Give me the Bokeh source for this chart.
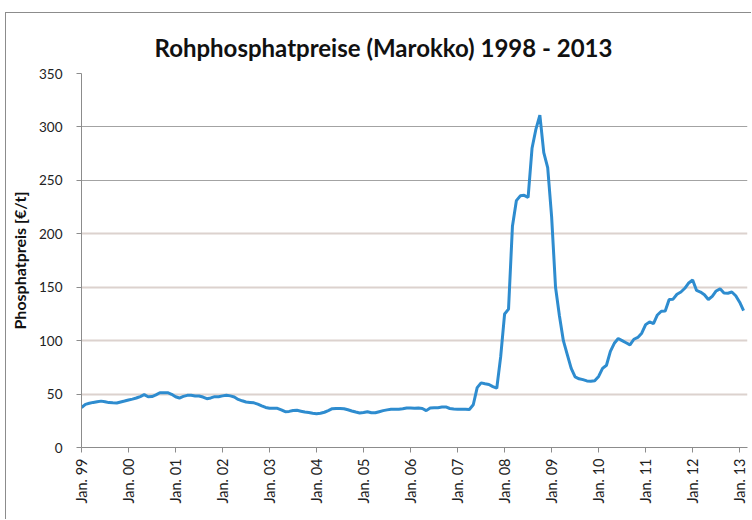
from bokeh.plotting import figure
from bokeh.models import FixedTicker, Grid, Range1d, ColumnDataSource
from bokeh.embed import file_html
from bokeh.resources import INLINE
import math

# Monthly raw phosphate prices (EUR/t), Jan 1999 .. Feb 2013
p1999 = [37.3, 40.4, 41.4, 42.2, 42.8, 43.4, 42.8, 42.0, 41.8, 41.7, 42.6, 43.5]
p2000 = [44.5, 45.3, 46.3, 47.7, 49.5, 47.5, 47.7, 49.2, 51.2, 51.3, 51.3, 49.8]
p2001 = [47.5, 46.3, 47.8, 48.8, 48.8, 48.2, 48.2, 47.2, 45.7, 46.4, 47.6, 47.5]
p2002 = [48.3, 48.9, 48.3, 47.3, 45.0, 43.7, 42.6, 42.2, 41.8, 40.6, 39.0, 37.5]
p2003 = [36.7, 36.7, 36.7, 35.2, 33.5, 33.8, 34.7, 34.8, 34.0, 33.2, 32.7, 32.0]
p2004 = [31.5, 32.0, 33.0, 34.5, 36.3, 36.6, 36.6, 36.3, 35.3, 34.2, 33.2, 32.3]
p2005 = [32.7, 33.5, 32.5, 32.5, 33.5, 34.5, 35.2, 35.8, 35.8, 35.8, 36.3, 37.0]
p2006 = [37.0, 36.8, 37.0, 36.5, 34.5, 37.0, 37.2, 37.3, 37.8, 38.0, 36.5, 36.0]
p2007 = [35.8, 35.8, 35.8, 35.6, 40.0, 56.0, 60.5, 59.7, 59.0, 57.0, 55.5, 85.0]
p2008 = [125.0, 129.5, 207.0, 231.0, 235.5, 236.0, 234.0, 280.0, 298.0, 311.0, 276.0, 262.0]
p2009 = [216.0, 150.0, 123.0, 100.0, 87.0, 74.0, 66.0, 64.3, 63.5, 62.3, 62.0, 62.5]
p2010 = [66.5, 74.0, 77.0, 90.0, 97.5, 102.0, 100.0, 98.0, 96.0, 101.3, 103.0, 107.0]
p2011 = [115.0, 117.5, 116.0, 124.0, 127.5, 127.8, 138.5, 138.8, 143.4, 145.5, 149.0, 154.0]
p2012 = [156.8, 147.0, 145.5, 143.0, 138.5, 141.5, 146.5, 148.5, 144.5, 144.4, 145.5, 142.0]
p2013 = [136.0, 128.0]

prices = (p1999 + p2000 + p2001 + p2002 + p2003 + p2004 + p2005 + p2006
          + p2007 + p2008 + p2009 + p2010 + p2011 + p2012 + p2013)
months = list(range(len(prices)))  # month index, 0 = Jan 1999

year_ticks = list(range(0, 169, 12))
year_labels = ["Jan. 99", "Jan. 00", "Jan. 01", "Jan. 02", "Jan. 03", "Jan. 04",
               "Jan. 05", "Jan. 06", "Jan. 07", "Jan. 08", "Jan. 09", "Jan. 10",
               "Jan. 11", "Jan. 12", "Jan. 13"]
y_ticks = [0, 50, 100, 150, 200, 250, 300, 350]
y_ticks_dark = [250, 300, 350]
y_ticks_light = [50, 100, 150, 200]

FONT = "Lato"

p = figure(width=746, height=507, output_backend="svg", toolbar_location=None,
           x_range=Range1d(0, 170), y_range=Range1d(0, 350),
           min_border_left=75, min_border_right=5, min_border_top=60,
           min_border_bottom=73)
p.styles = {"margin-left": "5px", "margin-top": "12px",
            "border-left": "1px solid #8c8c8c", "border-top": "1px solid #8c8c8c"}

p.title.text = "Rohphosphatpreise (Marokko) 1998 - 2013"
p.title.text_font = FONT
p.title.text_font_size = "24px"
p.title.text_font_style = "bold"
p.title.text_color = "#111111"
p.title.align = "left"
p.title.offset = 73
p.title.standoff = 24

p.outline_line_color = None
p.xgrid.grid_line_color = None
p.ygrid.grid_line_color = None

g1 = Grid(dimension=1, ticker=FixedTicker(ticks=y_ticks_dark),
          grid_line_color="#a3a3a3", grid_line_width=1)
g2 = Grid(dimension=1, ticker=FixedTicker(ticks=y_ticks_light),
          grid_line_color="#dcd2ce", grid_line_width=2)
p.add_layout(g2)
p.add_layout(g1)

src = ColumnDataSource(data=dict(m=months, v=prices))
p.line("m", "v", source=src, line_color="#2e8ccf", line_width=3)

# y axis
ya = p.yaxis[0]
ya.ticker = FixedTicker(ticks=y_ticks)
ya.axis_line_color = "#8c8c8c"
ya.major_tick_line_color = "#8c8c8c"
ya.major_tick_out = 5
ya.major_tick_in = 0
ya.minor_tick_line_color = None
ya.major_label_text_font = FONT
ya.major_label_text_font_size = "13.5px"
ya.major_label_text_color = "#222222"
ya.major_label_standoff = 14
ya.axis_label = "Phosphatpreis [€/t]"
ya.axis_label_text_font = FONT
ya.axis_label_text_font_size = "16px"
ya.axis_label_text_font_style = "bold"
ya.axis_label_text_color = "#111111"
ya.axis_label_standoff = 7

# x axis
xa = p.xaxis[0]
xa.ticker = FixedTicker(ticks=year_ticks)
xa.major_label_overrides = {t: l for t, l in zip(year_ticks, year_labels)}
xa.major_label_orientation = math.pi / 2
xa.axis_line_color = "#8c8c8c"
xa.major_tick_line_color = "#8c8c8c"
xa.major_tick_out = 5
xa.major_tick_in = 0
xa.minor_tick_line_color = None
xa.major_label_text_font = FONT
xa.major_label_text_font_size = "14.5px"
xa.major_label_text_color = "#222222"
xa.major_label_standoff = 6

open("out.html", "w").write(file_html(p, INLINE))
